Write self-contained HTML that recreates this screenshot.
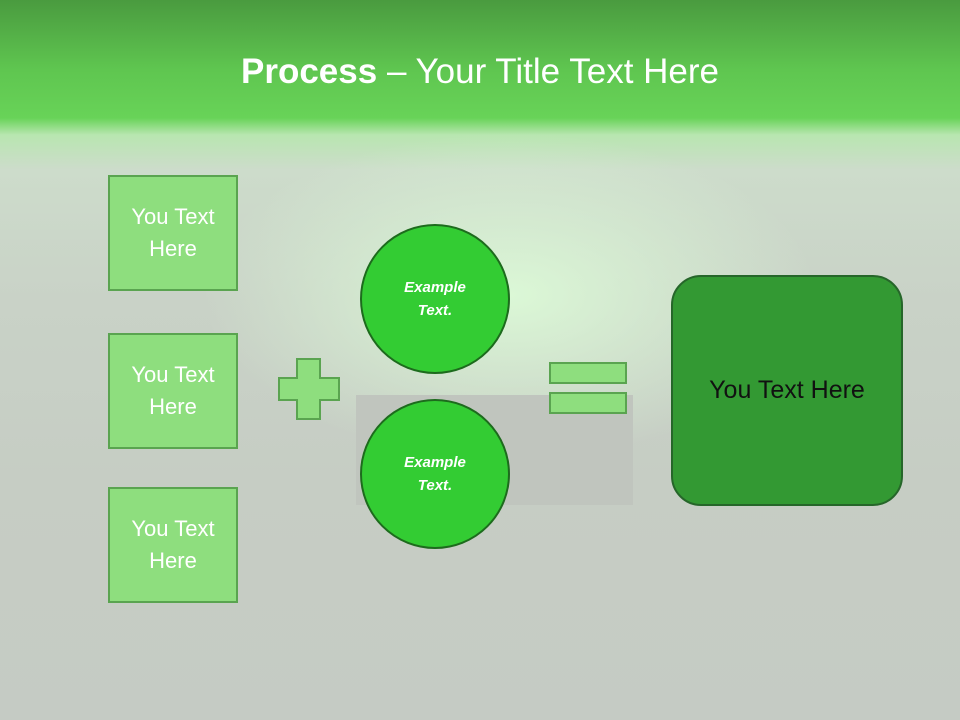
<!DOCTYPE html>
<html><head><style>
body{margin:0;width:960px;height:720px;overflow:hidden;font-family:"Liberation Sans",sans-serif;position:relative;
background:linear-gradient(180deg,#4a9b3f 0px,#5fc650 70px,#68d358 118px,#b8e6b0 135px,#cddccb 170px,#c9d2c7 300px,#c6cdc4 480px,#c5cbc4 720px);}
.glow{position:absolute;left:200px;top:130px;width:620px;height:330px;border-radius:50%;background:radial-gradient(ellipse at center,rgba(220,250,215,.95),rgba(220,250,215,0) 70%);}
.dark{position:absolute;left:356px;top:395px;width:277px;height:110px;background:#c0c5be;}
.box{position:absolute;left:108px;width:126px;height:112px;background:#8ede7e;border:2px solid #5aa450;color:#fff;font-size:22px;line-height:32px;text-align:center;display:flex;align-items:center;justify-content:center;}
.circ{position:absolute;left:360px;width:146px;height:146px;border-radius:50%;background:#33cc33;border:2px solid #1d6b1d;color:#fff;font-style:italic;font-weight:bold;font-size:15px;line-height:23px;text-align:center;display:flex;align-items:center;justify-content:center;}
.bar{position:absolute;background:#8ede7e;border:2px solid #5aa450;box-sizing:border-box;}
.cov{position:absolute;background:#8ede7e;}
</style></head><body>
<div class="glow"></div>
<div class="dark"></div>
<div style="position:absolute;top:52px;width:960px;text-align:center;color:#fff;font-size:35px;"><b>Process</b> – Your Title Text Here</div>
<div class="box" style="top:175px">You Text<br>Here</div>
<div class="box" style="top:333px">You Text<br>Here</div>
<div class="box" style="top:487px">You Text<br>Here</div>
<div class="bar" style="left:278px;top:377px;width:62px;height:24px"></div>
<div class="bar" style="left:296px;top:358px;width:25px;height:62px"></div>
<div class="cov" style="left:280px;top:379px;width:58px;height:20px"></div>
<div class="cov" style="left:298px;top:360px;width:21px;height:58px"></div>
<div class="circ" style="top:224px">Example<br>Text.</div>
<div class="circ" style="top:399px">Example<br>Text.</div>
<div class="bar" style="left:549px;top:362px;width:78px;height:22px"></div>
<div class="bar" style="left:549px;top:392px;width:78px;height:22px"></div>
<div style="position:absolute;left:671px;top:275px;width:228px;height:227px;border-radius:30px;background:#339933;border:2px solid #26662a;display:flex;align-items:center;justify-content:center;font-size:25px;color:#111;">You Text Here</div>
</body></html>
